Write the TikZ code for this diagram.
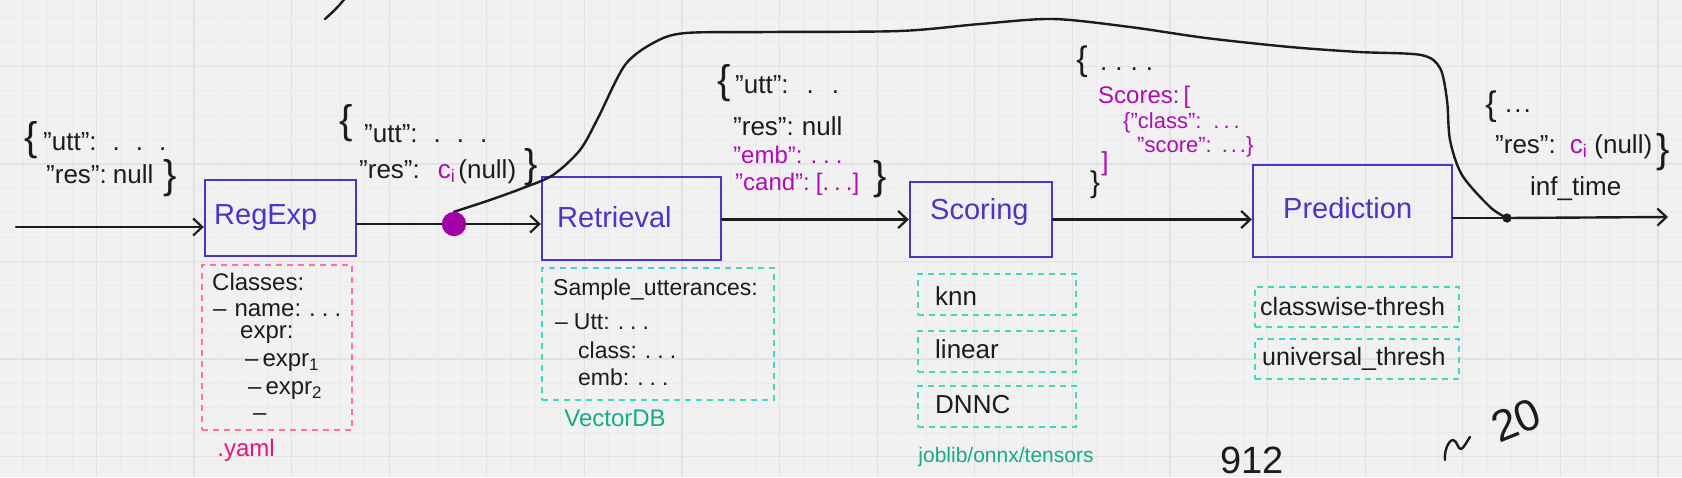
\documentclass[tikz,border=0pt]{standalone}
\usepackage{fontspec}
\setmainfont{Liberation Sans}
\usetikzlibrary{arrows.meta}
\definecolor{bg}{HTML}{F1F1F1}
\definecolor{gridminor}{HTML}{EAEAEA}
\definecolor{gridmajor}{HTML}{E2E2E2}
\definecolor{boxblue}{HTML}{4A35C8}
\definecolor{ink}{HTML}{1C1C1C}
\definecolor{mag}{HTML}{B00CB5}
\definecolor{dotmag}{HTML}{A300A8}
\definecolor{pinkdash}{HTML}{FF6FB0}
\definecolor{pinktext}{HTML}{EC1277}
\definecolor{tealdash}{HTML}{3FD8C2}
\definecolor{greentext}{HTML}{14AD86}
\tikzset{
  line/.style={draw=ink, line width=2.4pt, line cap=round, line join=round},
  arr/.style={line, -{Straight Barb[length=9pt,width=17pt,line width=2.2pt]}},
  stagebox/.style={draw=boxblue, line width=2.4pt, inner sep=0pt},
  stagelabel/.style={inner sep=0pt, anchor=west, text=boxblue, font=\fontsize{29}{32}\selectfont},
  pinkbox/.style={draw=pinkdash, line width=1.8pt, dash pattern=on 6pt off 5pt, inner sep=0pt},
  tealbox/.style={draw=tealdash, line width=1.8pt, dash pattern=on 6pt off 5pt, inner sep=0pt},
  jtxt/.style={inner sep=0pt, anchor=base west, text=ink, font=\fontsize{26}{30}\selectfont},
  mtxt/.style={jtxt, text=mag, font=\fontsize{24}{28}\selectfont},
  smtxt/.style={jtxt, text=mag, font=\fontsize{22}{26}\selectfont},
  subtxt/.style={inner sep=0pt, anchor=west, text=ink, font=\fontsize{24}{28}\selectfont},
  brace/.style={inner sep=0pt, text=ink, font=\fontsize{40}{40}\selectfont},
  gminor/.style={draw=gridminor, line width=1pt},
  gmajor/.style={draw=gridmajor, line width=1.3pt},
}
\begin{document}
\begin{tikzpicture}[x=1pt,y=-1pt]
\useasboundingbox (0,0) rectangle (1682,477);
\fill[bg] (0,0) rectangle (1682,477);
% grid
\foreach \i in {0,...,69} \draw[gminor] ({-1.2+24.4*\i},0) -- ({-1.2+24.4*\i},477);
\foreach \i in {0,...,19} \draw[gminor] (0,{17.5+24.4*\i}) -- (1682,{17.5+24.4*\i});
\foreach \i in {0,...,17} \draw[gmajor] ({-1.2+97.6*\i},0) -- ({-1.2+97.6*\i},477);
\foreach \i in {1,...,5} \draw[gmajor] (0,{-31.3+97.6*\i}) -- (1682,{-31.3+97.6*\i});

% stage boxes
\node[stagebox, minimum width=151pt, minimum height=76pt] (RegExp) at (280.5,218) {};
\node[stagebox, minimum width=179pt, minimum height=83pt] (Retrieval) at (631.5,218.5) {};
\node[stagebox, minimum width=142pt, minimum height=75pt] (Scoring) at (981,219.5) {};
\node[stagebox, minimum width=199pt, minimum height=92pt] (Prediction) at (1352.5,211) {};
\node[stagelabel] (RegExpT) at (214,218) {RegExp};
\node[stagelabel] (RetrievalT) at (557,217) {Retrieval};
\node[stagelabel] (ScoringT) at (930,212) {Scoring};
\node[stagelabel] (PredictionT) at (1283,208) {Prediction};

% connectors
\coordinate (in) at (16,227);
\coordinate (out) at (1668,217);
\node[circle, fill=dotmag, inner sep=0pt, minimum size=24pt] (dot) at (454,224) {};
\node[circle, fill=ink, inner sep=0pt, minimum size=9pt] (jn) at (1507,218) {};
\draw[arr] (in) -- (in -| RegExp.west);
\draw[line] (RegExp.east |- dot) -- (dot);
\draw[arr] (dot) -- (dot -| Retrieval.west);
\draw[arr] (Retrieval.east |- Scoring.west) -- (Scoring.west);
\draw[arr] (Scoring.east) -- (Scoring.east -| Prediction.west);
\draw[line] (Prediction.east |- jn) -- (jn);
\draw[arr] (jn) -- (out);
\draw[line] plot[smooth, tension=0.5] coordinates {(dot.north) (490,200) (523,188) (553,175) (580,150) (598,118) (625,65) (655,42) (686,33) (770,32) (900,31) (980,24) (1053,19) (1130,27) (1206,38) (1290,47) (1359,52) (1421,55) (1440,68) (1447,100) (1450,140) (1462,175) (1490,207) (jn)};
\node[circle, fill=dotmag, inner sep=0pt, minimum size=24pt] (dotb) at (dot) {};
\node[circle, fill=ink, inner sep=0pt, minimum size=9pt] (jnb) at (jn) {};

% input JSON
\node[brace] (b1) at (31,140) {\{};
\node[jtxt] (in1) at (43,150) {"utt":\hspace{16pt}.\hspace{16pt}.\hspace{16pt}.};
\node[jtxt] (in2) at (46,183) {"res":\hspace{6pt}null};
\node[brace] (b2) at (170,178) {\}};

% after RegExp JSON
\node[brace] (b3) at (346,123) {\{};
\node[jtxt] (re1) at (364,142) {"utt":\hspace{16pt}.\hspace{16pt}.\hspace{16pt}.};
\node[jtxt] (re2) at (359,178) {"res":\hspace{18pt}\textcolor{mag}{c\textsubscript{i}}\hspace{3pt}(null)};
\node[brace] (b4) at (531,167) {\}};

% after Retrieval JSON
\node[brace] (b5) at (724,83) {\{};
\node[jtxt] (rt1) at (735,93) {"utt":\hspace{18pt}.\hspace{18pt}.};
\node[jtxt] (rt2) at (733,135) {"res":\hspace{8pt}null};
\node[mtxt] (rt3) at (733,163) {"emb":\hspace{8pt}.\hspace{6pt}.\hspace{6pt}.};
\node[mtxt] (rt4) at (735,190) {"cand":\hspace{6pt}[.\hspace{5pt}.\hspace{5pt}.]};
\node[brace] (b6) at (880,179) {\}};

% after Scoring JSON
\node[brace, font=\fontsize{34}{34}\selectfont] (b7) at (1082,62) {\{};
\node[jtxt] (sc0) at (1100,70) {.\hspace{8pt}.\hspace{8pt}.\hspace{8pt}.};
\node[mtxt] (sc1) at (1098,103) {Scores:\hspace{4pt}[};
\node[smtxt] (sc2) at (1123,128) {\{"class":\hspace{12pt}.\hspace{4pt}.\hspace{4pt}.};
\node[smtxt] (sc3) at (1137,152) {"score":\hspace{10pt}.\hspace{3pt}.\hspace{3pt}.\}};
\node[brace, text=mag, font=\fontsize{26}{26}\selectfont] (b8) at (1105,164) {]};
\node[brace, font=\fontsize{30}{30}\selectfont] (b9) at (1095,185) {\}};

% output JSON
\node[brace, font=\fontsize{34}{34}\selectfont] (b10) at (1491,107) {\{};
\node[jtxt] (o0) at (1505,112) {.\hspace{2pt}.\hspace{2pt}.};
\node[jtxt] (o1) at (1495,153) {"res":\hspace{14pt}\textcolor{mag}{c\textsubscript{i}}\hspace{7pt}(null)};
\node[brace] (b11) at (1663,152) {\}};
\node[jtxt] (o2) at (1530,195) {inf\_time};

% yaml box
\node[pinkbox, minimum width=150pt, minimum height=165pt] (yamlbox) at (277,347.5) {};
\node[subtxt] (y1) at (212,282) {Classes:};
\node[subtxt] (y2) at (213,310) {–\hspace{8pt}name:\hspace{8pt}.\hspace{6pt}.\hspace{6pt}.};
\node[subtxt] (y3) at (240,335) {expr:};
\node[subtxt] (y4) at (245,363) {–\hspace{4pt}expr\textsubscript{1}};
\node[subtxt] (y5) at (248,391) {–\hspace{4pt}expr\textsubscript{2}};
\node[subtxt] (y6) at (253,417) {–};
\node[inner sep=0pt, text=pinktext, font=\fontsize{24}{28}\selectfont] (yaml) at (246,450) {.yaml};

% vector DB box
\node[tealbox, minimum width=232pt, minimum height=132pt] (vdb) at (658,334) {};
\node[subtxt, font=\fontsize{23}{27}\selectfont] (v1) at (553,290) {Sample\_utterances:};
\node[subtxt, font=\fontsize{23}{27}\selectfont] (v2) at (555,322) {–\hspace{6pt}Utt:\hspace{8pt}.\hspace{6pt}.\hspace{6pt}.};
\node[subtxt, font=\fontsize{23}{27}\selectfont] (v3) at (578,350) {class:\hspace{8pt}.\hspace{6pt}.\hspace{6pt}.};
\node[subtxt, font=\fontsize{23}{27}\selectfont] (v4) at (578,377) {emb:\hspace{8pt}.\hspace{6pt}.\hspace{6pt}.};
\node[inner sep=0pt, text=greentext, font=\fontsize{24}{28}\selectfont] (vdbt) at (615,418) {VectorDB};

% scoring models
\node[tealbox, minimum width=158pt, minimum height=41pt] (knn) at (996.6,294.5) {};
\node[tealbox, minimum width=158pt, minimum height=41pt] (linear) at (996.6,351.5) {};
\node[tealbox, minimum width=158pt, minimum height=41pt] (dnnc) at (996.6,406.5) {};
\node[subtxt, font=\fontsize{26}{30}\selectfont] (knnT) at (935,296) {knn};
\node[subtxt, font=\fontsize{26}{30}\selectfont] (linearT) at (935,349) {linear};
\node[subtxt, font=\fontsize{26}{30}\selectfont] (dnncT) at (935,405) {DNNC};
\node[inner sep=0pt, text=greentext, font=\fontsize{21}{25}\selectfont] (jobT) at (1006,457) {joblib/onnx/tensors};

% prediction options
\node[tealbox, minimum width=204pt, minimum height=40pt] (cw) at (1357,307) {};
\node[tealbox, minimum width=204pt, minimum height=40pt] (uv) at (1357,359) {};
\node[subtxt, font=\fontsize{25}{29}\selectfont] (cwT) at (1260,307) {classwise-thresh};
\node[subtxt, font=\fontsize{25}{29}\selectfont] (uvT) at (1262,359) {universal\_thresh};

% stray scribbles
\draw[line] (325,19) .. controls (334,11) and (340,5) .. (346,-3);
\node[inner sep=0pt, anchor=north west, text=ink, font=\fontsize{38}{38}\selectfont] (scr1) at (1220,447) {912};
\draw[line] (1445,460) .. controls (1444,450) and (1449,440) .. (1453,440) .. controls (1457,440) and (1458,450) .. (1461,449) .. controls (1464,448) and (1467,441) .. (1470,437);
\node[inner sep=0pt, text=ink, rotate=22, font=\fontsize{44}{44}\selectfont] (scr3) at (1516,420) {20};
\end{tikzpicture}
\end{document}
